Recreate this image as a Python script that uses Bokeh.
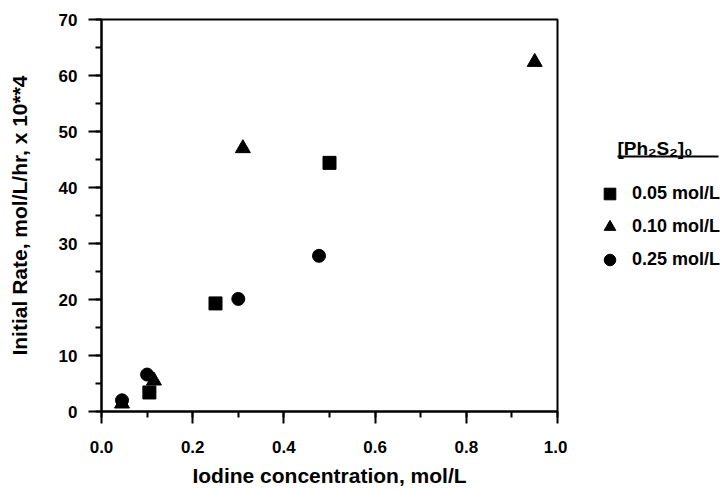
from bokeh.plotting import figure
from bokeh.layouts import row
from bokeh.models import (Legend, LegendItem, Label, BoxAnnotation,
                          SingleIntervalTicker, Range1d)
from bokeh.embed import file_html
from bokeh.resources import INLINE

# Initial rate (mol/L/hr x 10^4) versus iodine concentration (mol/L),
# one series per starting diphenyl disulfide concentration
sq_x = [0.105, 0.25, 0.50]
sq_y = [3.4, 19.3, 44.4]

tri_x = [0.045, 0.115, 0.31, 0.95]
tri_y = [1.4, 5.5, 47.0, 62.4]

circ_x = [0.045, 0.10, 0.30, 0.477]
circ_y = [2.0, 6.6, 20.1, 27.8]

series_labels = ["0.05 mol/L", "0.10 mol/L", "0.25 mol/L"]
legend_title = "[Ph\u2082S\u2082]\u2080"

FONT = "Liberation Sans"
H = 489
NAN = float("nan")

# ---- main scatter plot ----
p = figure(width=567, height=H, output_backend="svg", toolbar_location=None,
           x_range=Range1d(0, 1.0), y_range=Range1d(0, 70),
           min_border_left=101, min_border_right=10,
           min_border_top=19, min_border_bottom=77)

p.background_fill_color = "white"
p.border_fill_color = "white"
p.outline_line_color = "black"
p.outline_line_width = 2
p.xgrid.visible = False
p.ygrid.visible = False

p.xaxis.ticker = SingleIntervalTicker(interval=0.2, num_minor_ticks=2)
p.yaxis.ticker = SingleIntervalTicker(interval=10, num_minor_ticks=2)

for ax in (p.xaxis, p.yaxis):
    ax.axis_line_width = 2
    ax.axis_line_color = "black"
    ax.major_tick_line_width = 2
    ax.minor_tick_line_width = 2
    ax.major_tick_in = 0
    ax.minor_tick_in = 0
    ax.major_label_text_font = FONT
    ax.major_label_text_font_size = "17px"
    ax.major_label_text_font_style = "bold"
    ax.major_label_text_color = "black"
    ax.axis_label_text_font = FONT
    ax.axis_label_text_font_size = "21px"
    ax.axis_label_text_font_style = "bold"
    ax.axis_label_text_color = "black"

p.xaxis.major_tick_out = 12
p.xaxis.minor_tick_out = 6
p.yaxis.major_tick_out = 13
p.yaxis.minor_tick_out = 6

p.xaxis.formatter.use_scientific = False
p.xaxis.major_label_overrides = {0: "0.0", 1: "1.0"}
p.xaxis.major_label_standoff = 17
p.yaxis.major_label_standoff = 11
p.xaxis.axis_label_standoff = 8
p.yaxis.axis_label_standoff = 25

p.xaxis.axis_label = "Iodine concentration, mol/L"
p.yaxis.axis_label = "Initial Rate, mol/L/hr, x 10**4"

p.scatter(sq_x, sq_y, marker="square", size=13, color="black")
p.scatter(tri_x, tri_y, marker="triangle", size=15, color="black")
p.scatter(circ_x, circ_y, marker="circle", size=13, color="black")

# ---- side panel holding the key (its frame lines up with the main one) ----
k = figure(width=160, height=H, output_backend="svg", toolbar_location=None,
           x_range=Range1d(0, 160), y_range=Range1d(0, 393),
           x_axis_location=None, y_axis_location=None,
           min_border_left=0, min_border_right=0,
           min_border_top=19, min_border_bottom=77)
k.outline_line_color = None
k.xgrid.visible = False
k.ygrid.visible = False
k.background_fill_color = "white"
k.border_fill_color = "white"

# placeholder renderers (no visible points) that supply the key's symbols
k_sq = k.scatter([NAN], [NAN], marker="square", size=13, color="black")
k_tri = k.scatter([NAN], [NAN], marker="triangle", size=15, color="black")
k_circ = k.scatter([NAN], [NAN], marker="circle", size=13, color="black")

legend = Legend(
    items=[LegendItem(label=series_labels[0], renderers=[k_sq], index=0),
           LegendItem(label=series_labels[1], renderers=[k_tri], index=0),
           LegendItem(label=series_labels[2], renderers=[k_circ], index=0)],
    location=(28, 137), padding=0, margin=0, spacing=4,
    glyph_width=29, glyph_height=29, label_height=29, label_standoff=8,
    label_text_font=FONT, label_text_font_size="18px",
    label_text_font_style="bold",
    label_text_color="black", label_text_baseline="middle",
    border_line_color=None, background_fill_alpha=0,
)
k.add_layout(legend, "center")

# key heading with its rule underneath
k.add_layout(Label(x=50, y=263, x_units="screen", y_units="screen",
                   text=legend_title, text_font=FONT, text_font_size="19px",
                   text_font_style="bold",
                   text_color="black", text_baseline="alphabetic"))
k.add_layout(BoxAnnotation(left=50, right=151, bottom=254, top=256,
                           left_units="screen", right_units="screen",
                           bottom_units="screen", top_units="screen",
                           fill_color="black", fill_alpha=1, line_color=None))

layout = row(p, k, spacing=0)
open("out.html", "w").write(file_html(layout, INLINE))
